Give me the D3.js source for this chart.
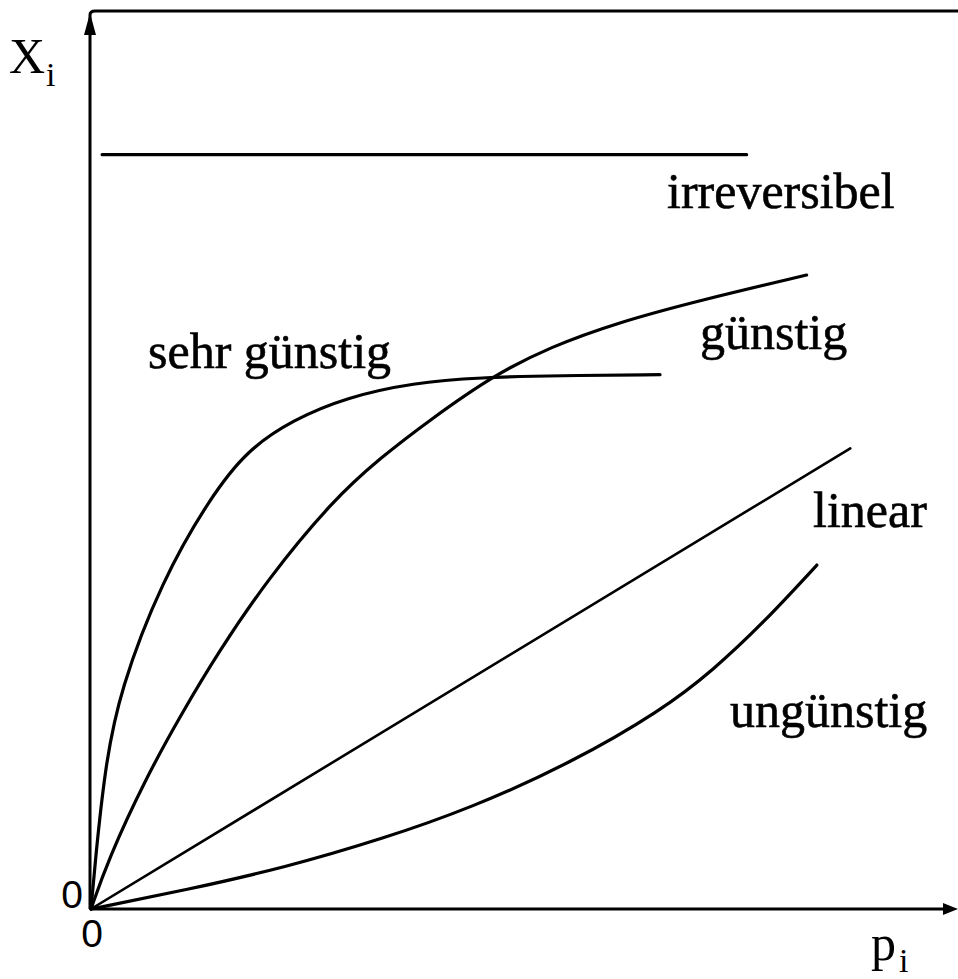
<!DOCTYPE html>
<html>
<head>
<meta charset="utf-8">
<script src="https://cdn.jsdelivr.net/npm/d3@7"></script>
</head>
<body style="margin:0">
<svg id="chart" width="958" height="979"></svg>
<script>
// Sorption isotherm shapes: loading X_i versus partial pressure p_i (arbitrary units 0..100)
const pSehrGuenstig = [0, 0.47, 1.63, 3.38, 8.28, 13.9, 18.2, 23.6, 29.9, 37.6, 45.4, 54.7, 66.4];
const xSehrGuenstig = [0, 5.1, 15.8, 24.4, 36.6, 45.8, 51.1, 54.5, 57.0, 58.6, 59.2, 59.4, 59.5];

const pGuenstig = [0, 2.0, 6.3, 10.6, 14.8, 20.5, 28.2, 33.7, 39.6, 46.9, 53.6, 61.4, 71.1, 83.5];
const xGuenstig = [0, 5.5, 14.4, 21.8, 28.5, 36.6, 45.5, 50.2, 54.5, 59.4, 62.6, 65.3, 67.8, 70.6];

const pLinear = [0, 88.6];
const xLinear = [0, 51.3];

const pUnguenstig = [0, 11.0, 22.6, 34.3, 44.2, 55.9, 66.7, 72.6, 78.4, 84.7];
const xUnguenstig = [0, 2.1, 4.6, 7.9, 11.2, 16.2, 22.2, 26.6, 31.8, 38.3];

const pIrreversibel = [1.3, 76.5];
const xIrreversibel = [84.0, 84.0];

const curveNames = ["sehr günstig", "günstig", "linear", "ungünstig", "irreversibel"];

const SERIF = '"Liberation Serif"';
const SANS = '"Liberation Sans"';

const svg = d3.select("#chart");
const W = 958, H = 979;

const x = d3.scaleLinear().domain([0, 100]).range([91, 948]);
const y = d3.scaleLinear().domain([0, 100]).range([909, 11]);

const zip = (ps, xs) => ps.map((p, i) => [p, xs[i]]);
const series = [
  zip(pSehrGuenstig, xSehrGuenstig),
  zip(pGuenstig, xGuenstig),
  zip(pLinear, xLinear),
  zip(pUnguenstig, xUnguenstig),
  zip(pIrreversibel, xIrreversibel)
];

const line = d3.line()
  .x(d => x(d[0]))
  .y(d => y(d[1]))
  .curve(d3.curveBasis);

svg.append("rect").attr("width", W).attr("height", H).attr("fill", "#fff");

// frame: y axis running into the top border
const x0 = x(0), y0 = y(0), yTop = y(100);
svg.append("path")
  .attr("d", `M${x0 - 1},${y0} V${yTop + 4} Q${x0 - 1},${yTop} ${x0 + 4},${yTop} H${W}`)
  .attr("fill", "none").attr("stroke", "#000").attr("stroke-width", 3);

// x axis
svg.append("line")
  .attr("x1", x0 - 1).attr("y1", y0).attr("x2", W - 10).attr("y2", y0)
  .attr("stroke", "#000").attr("stroke-width", 3);

// arrow heads
svg.append("path")
  .attr("d", `M${W},${y0} L${W - 15},${y0 - 6} L${W - 15},${y0 + 6} Z`)
  .attr("fill", "#000");
svg.append("path")
  .attr("d", `M${x0 - 1},${yTop + 2} L${x0 - 7},${yTop + 24} L${x0 + 5},${yTop + 24} Z`)
  .attr("fill", "#000");

// curves
svg.append("g").selectAll("path")
  .data(series)
  .join("path")
  .attr("d", line)
  .attr("fill", "none")
  .attr("stroke", "#000")
  .attr("stroke-width", (d, i) => i === 2 ? 2.6 : 3.2)
  .attr("stroke-linecap", "round");

// curve labels
const labelPos = [[148, 368], [700, 349], [813, 527], [730, 727], [667, 208]];
svg.append("g").selectAll("text")
  .data(curveNames)
  .join("text")
  .attr("x", (d, i) => labelPos[i][0])
  .attr("y", (d, i) => labelPos[i][1])
  .style("font-family", SERIF)
  .attr("font-size", 50)
  .attr("fill", "#000")
  .attr("stroke", "#000")
  .attr("stroke-width", 0.6)
  .text(d => d);

// axis titles
const xi = svg.append("text").style("font-family", SERIF).attr("font-size", 50)
  .attr("x", 9).attr("y", 73).attr("fill", "#000");
xi.append("tspan").text("X");
xi.append("tspan").attr("x", 46).attr("y", 86).attr("font-size", 34).text("i");

const pi = svg.append("text").style("font-family", SERIF).attr("font-size", 50)
  .attr("x", 871).attr("y", 960).attr("fill", "#000");
pi.append("tspan").text("p");
pi.append("tspan").attr("x", 899).attr("y", 972).attr("font-size", 34).text("i");

// zero marks
svg.append("text").attr("x", 72).attr("y", 908).attr("text-anchor", "middle")
  .style("font-family", SANS).attr("font-size", 39).attr("fill", "#000").text("0");
svg.append("text").attr("x", 92).attr("y", 947).attr("text-anchor", "middle")
  .style("font-family", SANS).attr("font-size", 39).attr("fill", "#000").text("0");
</script>
</body>
</html>
